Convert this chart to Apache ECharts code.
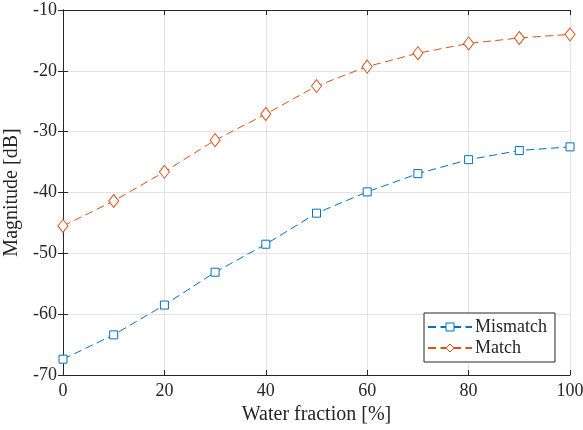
<!DOCTYPE html>
<html><head><meta charset="utf-8">
<script src="https://cdn.jsdelivr.net/npm/echarts@6/dist/echarts.min.js"></script>
<style>html,body{margin:0;padding:0;background:#fff}#c{width:583px;height:430px}</style>
</head><body><div id="c"></div>
<script>
const waterFraction = [0, 10, 20, 30, 40, 50, 60, 70, 80, 90, 100];
const mismatch = [-67.4, -63.4, -58.5, -53.1, -48.5, -43.4, -39.9, -36.9, -34.6, -33.1, -32.5];
const match = [-45.5, -41.4, -36.6, -31.4, -27.1, -22.5, -19.3, -17.1, -15.5, -14.6, -14.0];
const seriesNames = ['Mismatch', 'Match'];
const xTicks = [0, 20, 40, 60, 80, 100];
const yTicks = [-70, -60, -50, -40, -30, -20, -10];

const FONT = 'Liberation Serif';
const AX = '#262626';
const chart = echarts.init(document.getElementById('c'), null, {renderer: 'canvas'});
const pair = (xs, ys) => xs.map((x, i) => [x, ys[i]]);
const boxAxis = {
  axisLine: {show: true, lineStyle: {color: AX, width: 1}},
  axisTick: {show: true, inside: true, length: 5, lineStyle: {color: AX}},
  axisLabel: {show: false},
  splitLine: {show: false}
};
chart.setOption({
  animation: false,
  backgroundColor: '#fff',
  grid: {left: 63, right: 13, top: 10, bottom: 55, containLabel: false, outerBoundsMode: 'none'},
  xAxis: [{
    type: 'value', min: xTicks[0], max: xTicks[xTicks.length - 1], interval: 20,
    name: 'Water fraction [%]', nameLocation: 'middle', nameGap: 30,
    nameTextStyle: {fontFamily: FONT, fontSize: 20, color: AX},
    axisLine: {show: true, lineStyle: {color: AX, width: 1}},
    axisTick: {show: true, inside: true, length: 5, lineStyle: {color: AX}},
    axisLabel: {fontFamily: FONT, fontSize: 18, color: AX, margin: 7},
    splitLine: {show: true, lineStyle: {color: '#e3e3e3', width: 1}}
  }, Object.assign({type: 'value', position: 'top', min: 0, max: 100, interval: 20}, boxAxis)],
  yAxis: [{
    type: 'value', min: yTicks[0], max: yTicks[yTicks.length - 1], interval: 10,
    name: 'Magnitude [dB]', nameLocation: 'middle', nameGap: 39, nameRotate: 90,
    nameTextStyle: {fontFamily: FONT, fontSize: 20, color: AX},
    axisLine: {show: true, lineStyle: {color: AX, width: 1}},
    axisTick: {show: true, inside: true, length: 5, lineStyle: {color: AX}},
    axisLabel: {fontFamily: FONT, fontSize: 18, color: AX, margin: 6},
    splitLine: {show: true, lineStyle: {color: '#e3e3e3', width: 1}}
  }, Object.assign({type: 'value', position: 'right', min: -70, max: -10, interval: 10}, boxAxis)],
  legend: {
    left: 424, top: 313, orient: 'vertical',
    backgroundColor: '#fff', borderColor: AX, borderWidth: 1, borderRadius: 0,
    padding: [5, 8, 5, 3], itemGap: 3, itemWidth: 44, itemHeight: 10,
    itemStyle: {borderWidth: 1},
    textStyle: {fontFamily: FONT, fontSize: 18, color: AX, padding: [0, 0, 0, -2]},
    data: seriesNames
  },
  series: [{
    name: seriesNames[0], type: 'line', data: pair(waterFraction, mismatch),
    symbol: 'rect', symbolSize: 8, showSymbol: true,
    lineStyle: {color: '#0072BD', width: 1, type: [8, 4.5]},
    itemStyle: {color: '#fff', borderColor: '#0072BD', borderWidth: 1}
  }, {
    name: seriesNames[1], type: 'line', data: pair(waterFraction, match),
    symbol: 'diamond', symbolSize: [10, 13], showSymbol: true,
    lineStyle: {color: '#D95319', width: 1, type: [8, 4.5]},
    itemStyle: {color: '#fff', borderColor: '#D95319', borderWidth: 1}
  }]
});
</script></body></html>
